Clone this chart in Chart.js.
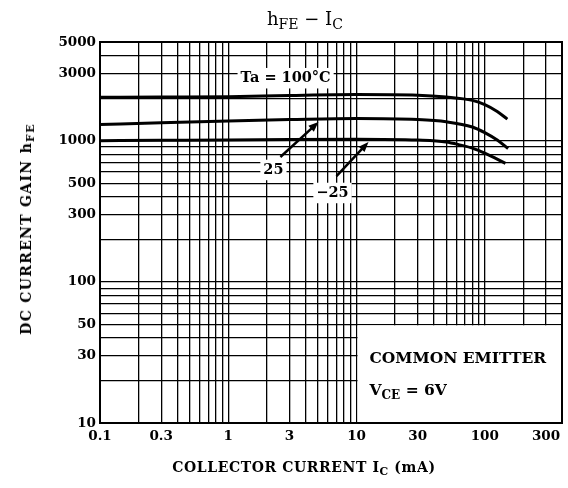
<!DOCTYPE html>
<html lang="en">
<head>
<meta charset="UTF-8">
<title>hFE - IC</title>
<script src="https://cdn.jsdelivr.net/npm/chart.js"></script>
<style>
  body { margin: 0; background: #fff; }
  .wrap {
    position: relative;
    width: 568px;
    height: 488px;
    font-family: "DejaVu Serif", "Liberation Serif", serif;
    color: #000;
  }
  canvas { position: absolute; left: 0; top: 0; }
  .title {
    position: absolute; left: 305px; top: 18px;
    transform: translate(-50%, -50%);
    font-size: 18px; white-space: nowrap;
  }
  .xtitle {
    position: absolute; left: 304px; top: 467px;
    transform: translate(-50%, -50%);
    font-size: 14px; font-weight: bold; letter-spacing: 0.6px; white-space: nowrap;
  }
  .ytitle {
    position: absolute; left: 26px; top: 229px;
    transform: translate(-50%, -50%) rotate(-90deg);
    font-size: 14px; font-weight: bold; letter-spacing: 1.3px; white-space: nowrap;
  }
  sub { font-size: 0.78em; vertical-align: -0.3em; line-height: 0; }
</style>
</head>
<body>
<div class="wrap">
  <canvas id="chart" width="568" height="488"></canvas>
  <div class="title">h<sub>FE</sub> &minus; I<sub>C</sub></div>
  <div class="ytitle">DC CURRENT GAIN h<sub>FE</sub></div>
  <div class="xtitle">COLLECTOR CURRENT I<sub>C</sub> (mA)</div>
</div>

<script>
// axis labels
const xLabels = [0.1, 0.3, 1, 3, 10, 30, 100, 300];
const yLabels = [10, 30, 50, 100, 300, 500, 1000, 3000, 5000];

// curves (IC in mA, hFE)
const icHot = [0.1, 0.3, 1, 3, 10, 30, 50, 80, 100, 125, 150];
const hfeHot = [2030, 2040, 2050, 2090, 2120, 2100, 2040, 1930, 1800, 1610, 1420];
const icRoom = [0.1, 0.3, 1, 3, 10, 30, 50, 80, 100, 125, 152];
const hfeRoom = [1300, 1340, 1380, 1410, 1435, 1410, 1360, 1250, 1140, 1010, 880];
const icCold = [0.1, 0.3, 1, 3, 10, 30, 50, 65, 80, 100, 145];
const hfeCold = [1000, 1005, 1010, 1020, 1025, 1010, 980, 930, 885, 815, 690];

// log grid: 1..9 in each decade
function logGrid(min, max) {
  const out = [];
  for (let e = Math.floor(Math.log10(min)); e <= Math.ceil(Math.log10(max)); e++) {
    for (let m = 1; m <= 9; m++) {
      const v = Number((m * Math.pow(10, e)).toPrecision(6));
      if (v >= min && v <= max) out.push(v);
    }
  }
  return out;
}

const xMin = 0.1, xMax = 400, yMin = 10, yMax = 5000;
const FAMILY = '"DejaVu Serif", "Liberation Serif", serif';
const labelFont = { family: FAMILY, size: 13.5, weight: 'bold' };

function pts(xs, ys) {
  return xs.map((v, i) => ({ x: v, y: ys[i] }));
}

// text with optional subscript pieces
function drawParts(ctx, parts, x, y, size) {
  const big = 'bold ' + size + 'px ' + FAMILY;
  const small = 'bold ' + Math.round(size * 0.78) + 'px ' + FAMILY;
  let cx = x;
  ctx.textBaseline = 'middle';
  ctx.textAlign = 'left';
  parts.forEach(p => {
    ctx.font = p.sub ? small : big;
    ctx.fillText(p.t, cx, p.sub ? y + size * 0.3 : y);
    cx += ctx.measureText(p.t).width;
  });
}

function label(ctx, text, x, y, size) {
  ctx.font = 'bold ' + size + 'px ' + FAMILY;
  const w = ctx.measureText(text).width;
  ctx.fillStyle = '#fff';
  ctx.fillRect(x - w / 2 - 3, y - size / 2 - 3, w + 6, size + 6);
  ctx.fillStyle = '#000';
  ctx.textAlign = 'center';
  ctx.textBaseline = 'middle';
  ctx.fillText(text, x, y);
}

function arrow(ctx, x1, y1, x2, y2) {
  const a = Math.atan2(y2 - y1, x2 - x1);
  const len = 10, half = 4;
  ctx.strokeStyle = '#000';
  ctx.lineWidth = 2.5;
  ctx.beginPath();
  ctx.moveTo(x1, y1);
  ctx.lineTo(x2 - Math.cos(a) * len * 0.6, y2 - Math.sin(a) * len * 0.6);
  ctx.stroke();
  ctx.beginPath();
  ctx.moveTo(x2, y2);
  ctx.lineTo(x2 - Math.cos(a) * len + Math.sin(a) * half, y2 - Math.sin(a) * len - Math.cos(a) * half);
  ctx.lineTo(x2 - Math.cos(a) * len - Math.sin(a) * half, y2 - Math.sin(a) * len + Math.cos(a) * half);
  ctx.closePath();
  ctx.fillStyle = '#000';
  ctx.fill();
}

const notes = [
  { text: 'Ta = 100°C', x: 2.8, y: 2770 },
  { text: '25', x: 2.25, y: 620 },
  { text: '\u221225', x: 6.5, y: 426 }
];
const arrows = [
  { from: [2.55, 766], to: [5.05, 1355] },
  { from: [6.98, 561], to: [12.4, 977] }
];

const overlay = {
  id: 'overlay',
  beforeDatasetsDraw(chart) {
    const { ctx, chartArea: ca, scales: { x, y } } = chart;
    // condition box in the lower right corner
    const bx = x.getPixelForValue(10), by = y.getPixelForValue(50);
    ctx.save();
    ctx.fillStyle = '#fff';
    ctx.fillRect(bx + 1, by + 1, ca.right - bx - 1, ca.bottom - by - 1);
    ctx.fillStyle = '#000';
    drawParts(ctx, [{ t: 'COMMON EMITTER' }], bx + 13, by + 35, 15.5);
    drawParts(ctx, [{ t: 'V' }, { t: 'CE', sub: true }, { t: ' = 6V' }], bx + 13, by + 67, 15.5);
    ctx.restore();
  },
  afterDatasetsDraw(chart) {
    const { ctx, chartArea: ca, scales: { x, y } } = chart;
    ctx.save();
    notes.forEach(n => label(ctx, n.text, x.getPixelForValue(n.x), y.getPixelForValue(n.y), 14.5));
    arrows.forEach(a => arrow(ctx,
      x.getPixelForValue(a.from[0]), y.getPixelForValue(a.from[1]),
      x.getPixelForValue(a.to[0]), y.getPixelForValue(a.to[1])));
    ctx.strokeStyle = '#000';
    ctx.lineWidth = 2;
    ctx.strokeRect(ca.left, ca.top, ca.right - ca.left, ca.bottom - ca.top);
    ctx.restore();
  }
};

const curve = (data) => ({
  data: data,
  borderColor: '#000',
  borderWidth: 3,
  pointRadius: 0,
  fill: false,
  cubicInterpolationMode: 'monotone'
});

new Chart(document.getElementById('chart'), {
  type: 'line',
  data: {
    datasets: [
      curve(pts(icHot, hfeHot)),
      curve(pts(icRoom, hfeRoom)),
      curve(pts(icCold, hfeCold))
    ]
  },
  options: {
    responsive: false,
    animation: false,
    devicePixelRatio: 1,
    layout: { padding: { left: 0, right: 6, top: 42, bottom: 0 } },
    plugins: { legend: { display: false }, tooltip: { enabled: false } },
    scales: {
      x: {
        type: 'logarithmic',
        min: xMin, max: xMax,
        afterBuildTicks: s => { s.ticks = logGrid(xMin, xMax).map(v => ({ value: v })); },
        afterFit: s => { s.height = 65; },
        ticks: {
          autoSkip: false, maxRotation: 0, padding: 5,
          color: '#000', font: labelFont,
          callback: v => xLabels.includes(v) ? String(v) : ''
        },
        grid: { color: '#000', lineWidth: 1.3, drawTicks: false },
        border: { color: '#000', width: 2 }
      },
      y: {
        type: 'logarithmic',
        min: yMin, max: yMax,
        afterBuildTicks: s => { s.ticks = logGrid(yMin, yMax).map(v => ({ value: v })); },
        afterFit: s => { s.width = 100; },
        ticks: {
          autoSkip: false, padding: 4,
          color: '#000', font: labelFont,
          callback: v => yLabels.includes(v) ? String(v) : ''
        },
        grid: { color: '#000', lineWidth: 1.3, drawTicks: false },
        border: { color: '#000', width: 2 }
      }
    }
  },
  plugins: [overlay]
});
</script>
</body>
</html>
